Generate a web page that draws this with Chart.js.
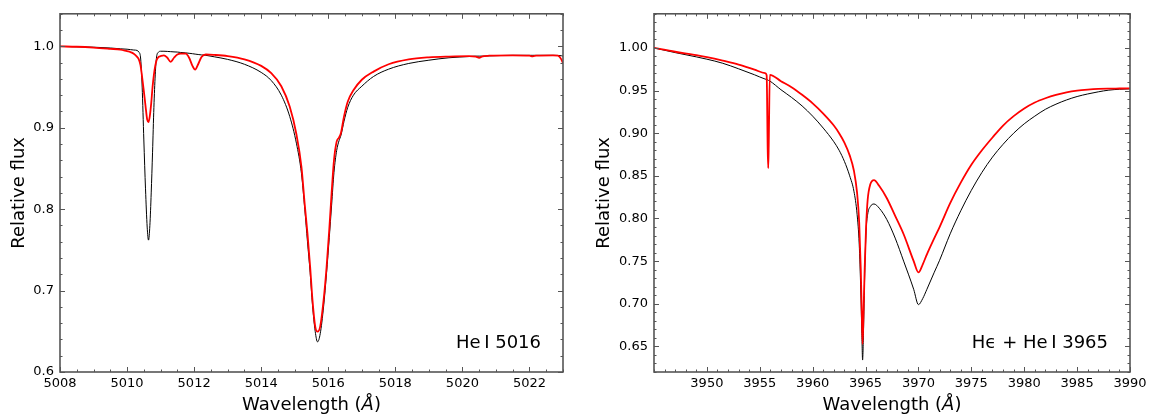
<!DOCTYPE html>
<html>
<head>
<meta charset="utf-8">
<script src="https://cdn.jsdelivr.net/npm/chart.js@4.4.0/dist/chart.umd.min.js"></script>
<style>
  body { margin: 0; background: #fff; }
  .painel { position: absolute; top: 0; width: 576px; height: 417px; }
</style>
</head>
<body>
<div class="painel" style="left:0"><canvas id="chart_he5016" width="576" height="417"></canvas></div>
<div class="painel" style="left:576px"><canvas id="chart_he3965" width="576" height="417"></canvas></div>
<script>
// Painel esquerdo: He I 5016
var ondaEsq = [5008.0, 5008.5, 5009.0, 5009.5, 5009.8, 5010.0, 5010.1, 5010.2, 5010.3, 5010.35,
  5010.4, 5010.45, 5010.5, 5010.55, 5010.6, 5010.64, 5010.68, 5010.72, 5010.76, 5010.8,
  5010.84, 5010.88, 5010.94, 5011.0, 5011.1, 5011.2, 5011.3, 5011.4, 5011.5, 5011.6,
  5011.75, 5011.85, 5011.95, 5012.03, 5012.12, 5012.22, 5012.35, 5012.6, 5013.0, 5013.5,
  5014.0, 5014.3, 5014.6, 5014.85, 5015.05, 5015.2, 5015.3, 5015.38, 5015.46, 5015.53,
  5015.61, 5015.68, 5015.76, 5015.86, 5015.95, 5016.03, 5016.1, 5016.17, 5016.25, 5016.32,
  5016.38, 5016.47, 5016.58, 5016.75, 5017.0, 5017.35, 5017.8, 5018.4, 5019.0, 5019.6,
  5020.2, 5020.4, 5020.5, 5020.6, 5020.8, 5021.5, 5022.0, 5022.1, 5022.2, 5022.7,
  5022.85, 5022.95, 5023.0];
var fluxoPretoEsq = [1.000, 0.9995, 0.999, 0.998, 0.997, 0.9965, 0.996, 0.9955, 0.995, 0.993,
  0.987, 0.950, 0.885, 0.825, 0.778, 0.762, 0.780, 0.820, 0.870, 0.925,
  0.965, 0.987, 0.993, 0.994, 0.994, 0.9938, 0.9935, 0.9932, 0.993, 0.9925,
  0.992, 0.9915, 0.991, 0.9905, 0.990, 0.9895, 0.989, 0.9872, 0.984, 0.978,
  0.968, 0.958, 0.940, 0.914, 0.881, 0.844, 0.800, 0.760, 0.722, 0.682,
  0.650, 0.637, 0.647, 0.680, 0.722, 0.765, 0.805, 0.845, 0.872, 0.884,
  0.891, 0.908, 0.925, 0.940, 0.951, 0.963, 0.972, 0.979, 0.983, 0.986,
  0.9875, 0.988, 0.988, 0.988, 0.9883, 0.989, 0.989, 0.989, 0.989, 0.989,
  0.9888, 0.9885, 0.988];
var fluxoVermEsq = [1.000, 0.9995, 0.9985, 0.997, 0.996, 0.994, 0.993, 0.991, 0.987, 0.984,
  0.977, 0.962, 0.945, 0.927, 0.910, 0.907, 0.915, 0.930, 0.950, 0.965,
  0.976, 0.983, 0.987, 0.988, 0.989, 0.986, 0.981, 0.986, 0.990, 0.991,
  0.991, 0.986, 0.976, 0.9715, 0.978, 0.987, 0.990, 0.9895, 0.988, 0.984,
  0.976, 0.967, 0.951, 0.926, 0.892, 0.852, 0.805, 0.770, 0.729, 0.688,
  0.656, 0.6495, 0.656, 0.688, 0.729, 0.775, 0.820, 0.860, 0.883, 0.888,
  0.894, 0.914, 0.932, 0.946, 0.959, 0.969, 0.978, 0.984, 0.9865, 0.9875,
  0.988, 0.9875, 0.986, 0.9878, 0.9885, 0.989, 0.9885, 0.9878, 0.9887, 0.989,
  0.9885, 0.984, 0.979];
var ticksXEsq = [5008, 5010, 5012, 5014, 5016, 5018, 5020, 5022];
var ticksYEsq = [0.6, 0.7, 0.8, 0.9, 1.0];
var rotulosYEsq = ['0.6', '0.7', '0.8', '0.9', '1.0'];

// Painel direito: H epsilon + He I 3965
var ondaDir = [3945, 3947, 3949, 3950, 3951.5, 3953, 3954.5, 3955.5, 3955.65, 3955.75,
  3955.8, 3955.85, 3955.95, 3957, 3958, 3959, 3960, 3961, 3962, 3962.5,
  3963, 3963.5, 3963.9, 3964.2, 3964.4, 3964.55, 3964.65, 3964.72, 3964.8, 3964.92,
  3965.05, 3965.2, 3965.45, 3965.8, 3966.3, 3967.0, 3967.8, 3968.6, 3969.55, 3970.0,
  3970.4, 3970.8, 3971.5, 3972.0, 3973, 3974, 3975, 3976, 3977, 3978,
  3979, 3980, 3981, 3982, 3983, 3984, 3985, 3986, 3987, 3988,
  3989, 3990];
var fluxoPretoDir = [1.000, 0.9945, 0.9895, 0.9868, 0.982, 0.9755, 0.9685, 0.9635, 0.963, 0.9625,
  0.962, 0.9618, 0.9612, 0.951, 0.942, 0.932, 0.920, 0.906, 0.890, 0.880,
  0.867, 0.850, 0.832, 0.805, 0.770, 0.715, 0.665, 0.634, 0.665, 0.735,
  0.785, 0.805, 0.814, 0.817, 0.812, 0.799, 0.777, 0.750, 0.717, 0.699,
  0.706, 0.717, 0.737, 0.751, 0.782, 0.809, 0.833, 0.854, 0.872, 0.887,
  0.900, 0.911, 0.920, 0.928, 0.934, 0.939, 0.943, 0.946, 0.9485, 0.9505,
  0.9515, 0.952];
var fluxoVermDir = [1.000, 0.9955, 0.9915, 0.9891, 0.985, 0.9805, 0.9745, 0.9705, 0.968, 0.880,
  0.859, 0.890, 0.9685, 0.961, 0.954, 0.945, 0.935, 0.923, 0.909, 0.900,
  0.889, 0.874, 0.856, 0.830, 0.795, 0.740, 0.685, 0.653, 0.685, 0.7425,
  0.790, 0.822, 0.840, 0.845, 0.838, 0.824, 0.803, 0.7815, 0.750, 0.7367,
  0.746, 0.758, 0.777, 0.790, 0.818, 0.842, 0.863, 0.880, 0.895, 0.909,
  0.920, 0.929, 0.936, 0.941, 0.945, 0.948, 0.950, 0.9512, 0.952, 0.9523,
  0.9524, 0.9525];
var ticksXDir = [3950, 3955, 3960, 3965, 3970, 3975, 3980, 3985, 3990];
var ticksYDir = [0.65, 0.70, 0.75, 0.80, 0.85, 0.90, 0.95, 1.00];
var rotulosYDir = ['0.65', '0.70', '0.75', '0.80', '0.85', '0.90', '0.95', '1.00'];

var fonte = '"DejaVu Sans", sans-serif';
Chart.defaults.color = '#000';
Chart.defaults.font.family = fonte;

function pontos(xs, ys) {
  return xs.map(function (x, i) { return { x: x, y: ys[i] }; });
}

// moldura, ticks para dentro e textos
var molduraPlugin = {
  id: 'moldura',
  afterDraw: function (chart, args, o) {
    var ctx = chart.ctx, a = chart.chartArea;
    var sx = chart.scales.x, sy = chart.scales.y;
    ctx.save();
    ctx.strokeStyle = '#555';
    ctx.lineWidth = 1;
    function seg(x1, y1, x2, y2) {
      ctx.beginPath(); ctx.moveTo(x1, y1); ctx.lineTo(x2, y2); ctx.stroke();
    }
    function marcaX(v, len) {
      var p = Math.round(sx.getPixelForValue(v)) + 0.5;
      seg(p, a.bottom, p, a.bottom - len);
      seg(p, a.top, p, a.top + len);
    }
    function marcaY(v, len) {
      var p = Math.round(sy.getPixelForValue(v)) + 0.5;
      seg(a.left, p, a.left + len, p);
      seg(a.right, p, a.right - len, p);
    }
    var v;
    for (v = sx.min; v <= sx.max + 1e-9; v += o.menorX) marcaX(v, 2.5);
    for (v = o.inicioMenorY; v <= sy.max + 1e-9; v += o.menorY) marcaY(v, 2.5);
    o.ticksX.forEach(function (t) { marcaX(t, 5); });
    o.ticksY.forEach(function (t) { marcaY(t, 5); });
    ctx.lineWidth = 1.6;
    ctx.strokeRect(a.left, a.top, a.right - a.left, a.bottom - a.top);

    // rótulo dentro do gráfico
    ctx.fillStyle = '#000';
    ctx.font = '18px ' + fonte;
    ctx.textAlign = 'right';
    ctx.textBaseline = 'alphabetic';
    ctx.fillText(o.rotulo, o.rotuloX, 348);

    // título eixo x com Å em itálico
    var p1 = 'Wavelength (', p2 = '\u00C5', p3 = ')';
    ctx.font = '18px ' + fonte;
    var w1 = ctx.measureText(p1).width, w3 = ctx.measureText(p3).width;
    ctx.font = 'italic 18px ' + fonte;
    var w2 = ctx.measureText(p2).width;
    var cx = (a.left + a.right) / 2;
    var x0 = cx - (w1 + w2 + w3) / 2;
    ctx.textAlign = 'left';
    ctx.font = '18px ' + fonte;
    ctx.fillText(p1, x0, 410);
    ctx.font = 'italic 18px ' + fonte;
    ctx.fillText(p2, x0 + w1, 410);
    ctx.font = '18px ' + fonte;
    ctx.fillText(p3, x0 + w1 + w2, 410);

    // título eixo y
    ctx.translate(o.tituloYX, (a.top + a.bottom) / 2);
    ctx.rotate(-Math.PI / 2);
    ctx.textAlign = 'center';
    ctx.textBaseline = 'middle';
    ctx.fillText('Relative flux', 0, 0);
    ctx.restore();
  }
};

function criaGrafico(id, onda, preto, verm, cfg) {
  return new Chart(document.getElementById(id), {
    type: 'line',
    data: {
      datasets: [
        { data: pontos(onda, verm), borderColor: '#ff0000', borderWidth: 1.8 },
        { data: pontos(onda, preto), borderColor: '#000000', borderWidth: 1 }
      ]
    },
    options: {
      responsive: false,
      animation: false,
      layout: { padding: { top: 12, right: cfg.padDir, bottom: 0, left: 0 } },
      elements: { point: { radius: 0 }, line: { cubicInterpolationMode: 'monotone' } },
      plugins: {
        legend: { display: false },
        tooltip: { enabled: false },
        moldura: {
          ticksX: cfg.ticksX, ticksY: cfg.ticksY,
          menorX: cfg.menorX, menorY: cfg.menorY, inicioMenorY: cfg.yMin,
          rotulo: cfg.rotulo, rotuloX: cfg.rotuloX, tituloYX: cfg.tituloYX
        }
      },
      scales: {
        x: {
          type: 'linear', min: cfg.xMin, max: cfg.xMax,
          grid: { display: false, drawTicks: false },
          border: { display: false },
          afterFit: function (s) { s.height = 45; },
          afterBuildTicks: function (s) { s.ticks = cfg.ticksX.map(function (t) { return { value: t }; }); },
          ticks: { padding: 4, font: { size: 13 }, maxRotation: 0, callback: function (v) { return String(v); } }
        },
        y: {
          type: 'linear', min: cfg.yMin, max: cfg.yMax,
          grid: { display: false, drawTicks: false },
          border: { display: false },
          afterFit: function (s) { s.width = cfg.larguraY; },
          afterBuildTicks: function (s) { s.ticks = cfg.ticksY.map(function (t) { return { value: t }; }); },
          ticks: {
            padding: 6, font: { size: 13 },
            callback: function (v) {
              var i = cfg.ticksY.findIndex(function (t) { return Math.abs(t - v) < 1e-6; });
              return i >= 0 ? cfg.rotulosY[i] : '';
            }
          }
        }
      }
    },
    plugins: [molduraPlugin]
  });
}

criaGrafico('chart_he5016', ondaEsq, fluxoPretoEsq, fluxoVermEsq, {
  xMin: 5008, xMax: 5023, yMin: 0.6, yMax: 1.04,
  ticksX: ticksXEsq, ticksY: ticksYEsq, rotulosY: rotulosYEsq,
  menorX: 0.5, menorY: 0.02, larguraY: 60, padDir: 13,
  rotulo: 'He\u2009I 5016', rotuloX: 541, tituloYX: 19.5
});

criaGrafico('chart_he3965', ondaDir, fluxoPretoDir, fluxoVermDir, {
  xMin: 3945, xMax: 3990, yMin: 0.62, yMax: 1.04,
  ticksX: ticksXDir, ticksY: ticksYDir, rotulosY: rotulosYDir,
  menorX: 1, menorY: 0.01, larguraY: 78, padDir: 22,
  rotulo: 'H\u03F5 + He\u2009I 3965', rotuloX: 532, tituloYX: 28.5
});
</script>
</body>
</html>
